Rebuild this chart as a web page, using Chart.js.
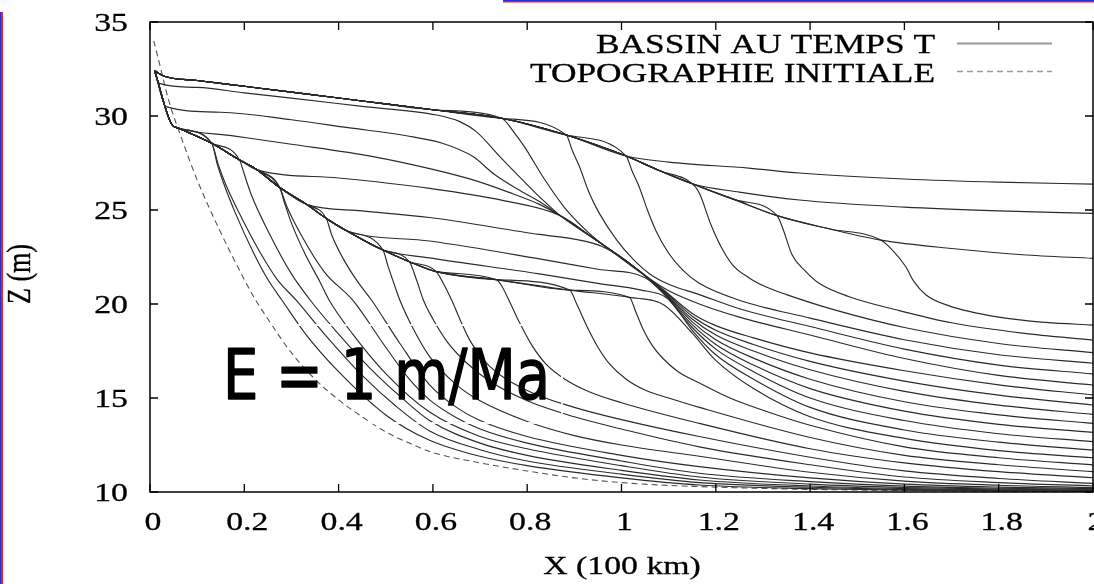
<!DOCTYPE html>
<html>
<head>
<meta charset="utf-8">
<script src="https://cdn.jsdelivr.net/npm/chart.js@4.4.1/dist/chart.umd.min.js"></script>
<style>
  html, body { margin:0; padding:0; background:#fff; }
  #wrap { width:1094px; height:584px; position:relative; }
</style>
</head>
<body>
<div id="wrap"><canvas id="basin" width="1094" height="584"></canvas></div>
<script>
// axes
const xTicks = [0, 0.2, 0.4, 0.6, 0.8, 1, 1.2, 1.4, 1.6, 1.8, 2];
const yTicks = [10, 15, 20, 25, 30, 35];
const legendLabels = ['BASSIN AU TEMPS T', 'TOPOGRAPHIE INITIALE'];
const noteText = 'E = 1 m/Ma';

// initial topography, drawn dashed
const initialTopo = [[0.008,34.0],[0.02,32.8],[0.04,30.8],[0.07,28.6],[0.1,26.6],[0.15,23.8],[0.2,21.3],[0.222,20.3],
  [0.25,19.2],[0.3,17.4],[0.35,16.0],[0.4,14.9],[0.45,14.0],[0.5,13.2],[0.55,12.6],[0.6,12.1],[0.7,11.55],[0.8,11.12],
  [0.9,10.75],[1.0,10.5],[1.1,10.35],[1.2,10.26],[1.3,10.19],[1.4,10.14],[1.6,10.08],[1.8,10.04],[2.0,10.02]];

// upper shelf edge: profiles follow it up to their break, then take their own tail
const upperRim = [[0.01,32.4],[0.032,32.1],[0.1,31.89],[0.2,31.58],[0.3,31.27],[0.45,30.8],[0.6,30.33],[0.746,29.88],
  [0.883,28.99],[1.01,27.87],[1.08,27.1],[1.15,26.4],[1.24,25.55],[1.33,24.7],[1.44,24.0],[1.55,23.4]];
const upperStops = [1.01, 1.15, 1.55, 1.55, 1.33, 1.15, 1.01, 0.883, 0.746];
const upperTails = [
  [[1.1,27.55],[1.27,27.23],[1.377,26.97],[1.6,26.65],[1.8,26.48],[2.0,26.38]],
  [[1.25,25.95],[1.377,25.53],[1.6,25.15],[1.8,24.95],[2.0,24.82]],
  [[1.7,22.95],[1.85,22.62],[2.0,22.43]],
  [[1.575,22.85],[1.603,21.98],[1.62,21.2],[1.646,20.48],[1.695,19.9],[1.8,19.3],[1.9,19.02],[2.0,18.88]],
  [[1.341,24.1],[1.362,22.6],[1.39,21.75],[1.419,21.1],[1.483,20.39],[1.589,19.65],[1.7,19.0],[1.85,18.45],[2.0,18.08]],
  [[1.165,25.9],[1.19,24.2],[1.21,23.1],[1.235,22.1],[1.27,21.4],[1.307,20.9],[1.35,20.5],[1.45,19.7],[1.6,18.75],[1.8,17.9],[2.0,17.41]],
  [[1.022,27.1],[1.038,26.2],[1.055,25.0],[1.073,23.9],[1.1,22.7],[1.13,21.8],[1.165,21.1],[1.25,20.2],[1.4,19.25],[1.6,18.1],[1.8,17.3],[2.0,16.85]],
  [[0.895,28.2],[0.911,27.3],[0.93,26.0],[0.953,24.82],[0.99,23.4],[1.024,22.4],[1.06,21.6],[1.1,21.05],[1.165,20.5],[1.25,19.75],[1.4,18.8],[1.6,17.6],[1.8,16.75],[2.0,16.28]],
  [[0.77,29.2],[0.794,28.37],[0.835,26.7],[0.88,25.1],[0.93,23.8],[0.99,22.6],[1.05,21.5],[1.1,20.7],[1.165,20.0],[1.25,19.3],[1.4,18.35],[1.6,17.1],[1.8,16.2],[2.0,15.69]]
];

// lower shelf edge (and the last topset running on from it)
const lowerRim = [[0.01,32.4],[0.046,29.56],[0.061,29.35],[0.131,28.55],[0.19,27.66],[0.226,27.15],[0.275,26.2],
  [0.332,25.3],[0.374,24.55],[0.417,23.9],[0.494,22.87],[0.55,22.25],[0.607,21.72],[0.734,21.3],[0.89,20.74],[1.017,20.35]];
const lowerStops = [0.01, 0.01, 0.061, 0.226, 0.332, 0.417, 0.494, 1.017,
  1.017, 0.89, 0.734, 0.607, 0.55, 0.494, 0.374, 0.275, 0.275, 0.19, 0.131, 0.131];
const lowerTails = [
  [[0.018,31.75],[0.1,31.52],[0.2,31.23],[0.3,30.95],[0.45,30.51],[0.608,30.05],[0.657,29.7],[0.692,29.17],[0.742,27.84],[0.79,26.6],[0.826,25.7],[0.87,24.7],[0.946,23.4],[1.017,22.16],[1.087,20.8],[1.15,19.5],[1.2,18.85],[1.28,18.2],[1.4,17.4],[1.6,16.45],[1.8,15.7],[2.0,15.16]],
  [[0.034,30.5],[0.15,30.2],[0.3,29.8],[0.42,29.38],[0.544,28.95],[0.62,28.55],[0.685,27.84],[0.73,26.9],[0.78,26.1],[0.826,25.45],[0.87,24.7],[0.946,23.4],[1.017,22.16],[1.087,20.76],[1.15,19.35],[1.2,18.6],[1.28,17.85],[1.4,16.95],[1.6,15.9],[1.8,15.15],[2.0,14.63]],
  [[0.18,28.93],[0.3,28.5],[0.473,27.84],[0.593,27.2],[0.685,26.6],[0.76,25.95],[0.826,25.3],[0.87,24.7],[0.946,23.4],[1.017,22.16],[1.087,20.72],[1.15,19.2],[1.2,18.35],[1.28,17.5],[1.4,16.5],[1.6,15.35],[1.8,14.62],[2.0,14.13]],
  [[0.4,26.7],[0.593,26.15],[0.75,25.5],[0.87,24.7],[0.946,23.4],[1.017,22.16],[1.087,20.68],[1.15,19.05],[1.2,18.1],[1.28,17.12],[1.4,16.0],[1.6,14.8],[1.8,14.1],[2.0,13.65]],
  [[0.45,24.95],[0.593,24.6],[0.826,23.7],[0.9,23.45],[0.96,23.05],[1.017,22.16],[1.087,20.64],[1.15,18.9],[1.2,17.85],[1.28,16.75],[1.4,15.5],[1.6,14.3],[1.8,13.6],[2.0,13.17]],
  [[0.593,23.35],[0.826,22.4],[0.95,21.85],[1.05,21.4],[1.087,20.6],[1.15,18.75],[1.2,17.6],[1.28,16.4],[1.4,15.0],[1.6,13.8],[1.8,13.1],[2.0,12.68]],
  [[0.593,22.45],[0.826,21.6],[0.95,21.1],[1.04,20.75],[1.1,20.25],[1.15,18.6],[1.2,17.3],[1.28,16.0],[1.4,14.5],[1.6,13.3],[1.8,12.65],[2.0,12.23]],
  [[1.09,19.95],[1.15,18.45],[1.2,17.0],[1.28,15.5],[1.4,14.0],[1.6,12.85],[1.8,12.2],[2.0,11.82]],
  [[1.03,19.6],[1.045,18.7],[1.065,17.8],[1.088,17.1],[1.12,16.4],[1.165,15.8],[1.23,15.0],[1.3,14.35],[1.4,13.55],[1.6,12.4],[1.8,11.82],[2.0,11.44]],
  [[0.905,20.0],[0.925,18.9],[0.95,17.7],[0.975,16.8],[1.01,16.0],[1.052,15.4],[1.1,15.0],[1.165,14.5],[1.4,12.9],[1.6,11.95],[1.8,11.45],[2.0,11.08]],
  [[0.745,21.0],[0.765,20.0],[0.784,19.0],[0.81,17.8],[0.84,16.8],[0.88,16.0],[0.93,15.35],[1.0,14.75],[1.165,13.65],[1.4,12.3],[1.6,11.55],[1.8,11.08],[2.0,10.76]],
  [[0.62,21.2],[0.64,20.2],[0.657,19.2],[0.68,18.0],[0.72,16.7],[0.8,15.4],[0.9,14.5],[1.0,13.85],[1.165,12.95],[1.4,11.85],[1.6,11.12],[1.8,10.72],[2.0,10.46]],
  [[0.565,21.3],[0.58,20.2],[0.6,19.2],[0.63,18.0],[0.67,16.9],[0.72,15.9],[0.8,14.85],[0.9,14.0],[1.0,13.35],[1.165,12.4],[1.4,11.45],[1.6,10.8],[1.8,10.5],[2.0,10.32]],
  [[0.505,22.0],[0.52,20.9],[0.53,20.2],[0.56,18.6],[0.593,17.2],[0.65,15.7],[0.7,14.85],[0.8,13.75],[0.9,13.0],[1.0,12.5],[1.165,11.9],[1.4,11.05],[1.6,10.58],[1.8,10.36],[2.0,10.24]],
  [[0.385,23.7],[0.41,22.4],[0.44,21.2],[0.47,20.2],[0.53,17.9],[0.593,15.7],[0.65,14.5],[0.7,13.8],[0.8,12.95],[1.0,11.95],[1.165,11.35],[1.4,10.75],[1.6,10.42],[1.8,10.26],[2.0,10.18]],
  [[0.29,25.2],[0.32,23.7],[0.37,21.7],[0.43,20.2],[0.5,17.7],[0.55,16.0],[0.593,14.9],[0.65,13.95],[0.7,13.35],[0.8,12.6],[1.0,11.65],[1.165,11.0],[1.4,10.55],[1.6,10.31],[1.8,10.2],[2.0,10.14]],
  [[0.285,25.4],[0.3,24.3],[0.33,22.6],[0.36,21.2],[0.38,20.2],[0.43,18.4],[0.5,16.3],[0.593,14.25],[0.7,12.95],[0.8,12.3],[1.0,11.4],[1.165,10.8],[1.4,10.42],[1.6,10.24],[1.8,10.15],[2.0,10.11]],
  [[0.2,26.9],[0.215,25.8],[0.25,23.9],[0.3,21.6],[0.34,20.2],[0.4,18.4],[0.47,16.5],[0.53,15.1],[0.593,13.8],[0.7,12.6],[0.8,11.95],[1.0,11.15],[1.165,10.64],[1.4,10.32],[1.6,10.18],[1.8,10.11],[2.0,10.09]],
  [[0.145,27.4],[0.16,26.4],[0.19,24.8],[0.23,22.9],[0.27,21.3],[0.31,20.2],[0.37,18.4],[0.45,16.2],[0.52,14.6],[0.593,13.25],[0.7,12.25],[0.8,11.65],[1.0,10.95],[1.165,10.5],[1.4,10.25],[1.6,10.13],[1.8,10.08],[2.0,10.06]],
  [[0.142,27.5],[0.155,26.5],[0.18,24.9],[0.22,22.7],[0.25,21.3],[0.28,20.2],[0.33,18.4],[0.4,16.4],[0.5,14.1],[0.593,12.75],[0.7,11.9],[0.8,11.4],[1.0,10.75],[1.165,10.37],[1.4,10.18],[1.6,10.1],[1.8,10.06],[2.0,10.05]]
];

const LINE = '#2b2b2b';
const SERIF = '"Liberation Serif", "Times New Roman", serif';

function along(rim, stop) {
  return rim.filter(p => p[0] <= stop + 1e-9);
}
const toXY = pts => pts.map(([x, y]) => ({ x, y }));

const profiles = [];
upperTails.forEach((t, i) => profiles.push(along(upperRim, upperStops[i]).concat(t)));
lowerTails.forEach((t, i) => profiles.push(along(lowerRim, lowerStops[i]).concat(t)));

const datasets = profiles.map(p => ({
  data: toXY(p), borderColor: LINE, borderWidth: 1.15, showLine: true,
  pointRadius: 0, fill: false, cubicInterpolationMode: 'monotone'
}));
datasets.push({
  data: toXY(initialTopo), borderColor: '#555', borderWidth: 1.1, borderDash: [6, 4],
  showLine: true, pointRadius: 0, fill: false, cubicInterpolationMode: 'monotone'
});

// text stretched along x, the way the original plot was scaled; a thin stroke thickens the serif
function wideText(ctx, text, x, y, align, sx) {
  ctx.save();
  ctx.translate(x, y);
  ctx.scale(sx, 1);
  ctx.textAlign = align;
  ctx.fillText(text, 0, 0);
  ctx.strokeText(text, 0, 0);
  ctx.restore();
}

const decor = {
  id: 'decor',
  afterDraw(chart) {
    const { ctx, chartArea: a, scales } = chart;
    const xs = scales.x, ys = scales.y;
    ctx.save();

    // frame + inward ticks on all four sides
    ctx.strokeStyle = '#000';
    ctx.lineWidth = 1.5;
    ctx.strokeRect(a.left, a.top, a.right - a.left, a.bottom - a.top);
    ctx.lineWidth = 1.3;
    ctx.beginPath();
    xTicks.forEach(v => {
      const px = xs.getPixelForValue(v);
      ctx.moveTo(px, a.bottom); ctx.lineTo(px, a.bottom - 8);
      ctx.moveTo(px, a.top); ctx.lineTo(px, a.top + 8);
    });
    yTicks.forEach(v => {
      const py = ys.getPixelForValue(v);
      ctx.moveTo(a.left, py); ctx.lineTo(a.left + 8, py);
      ctx.moveTo(a.right, py); ctx.lineTo(a.right - 8, py);
    });
    ctx.stroke();

    // tick labels
    ctx.fillStyle = '#000';
    ctx.strokeStyle = '#000';
    ctx.lineWidth = 0.3;
    ctx.font = '26px ' + SERIF;
    ctx.textBaseline = 'alphabetic';
    xTicks.forEach(v => wideText(ctx, String(v), xs.getPixelForValue(v) + 3, 530, 'center', 1.3));
    yTicks.forEach(v => wideText(ctx, String(v), 128, ys.getPixelForValue(v) + 9, 'right', 1.3));

    // axis titles
    wideText(ctx, 'X (100 km)', 622, 574, 'center', 1.3);
    ctx.save();
    ctx.translate(30, 274);
    ctx.rotate(-Math.PI / 2);
    ctx.scale(1, 1.3);
    ctx.textAlign = 'center';
    ctx.fillText('Z (m)', 0, 0);
    ctx.strokeText('Z (m)', 0, 0);
    ctx.restore();

    // key
    ctx.font = '27px ' + SERIF;
    wideText(ctx, legendLabels[0], 935, 53, 'right', 1.31);
    wideText(ctx, legendLabels[1], 935, 81.5, 'right', 1.31);
    ctx.strokeStyle = '#9a9a9a';
    ctx.lineWidth = 1.8;
    ctx.beginPath(); ctx.moveTo(957, 43.5); ctx.lineTo(1052, 43.5); ctx.stroke();
    ctx.lineWidth = 1.3;
    ctx.setLineDash([6, 4]);
    ctx.beginPath(); ctx.moveTo(957, 71.5); ctx.lineTo(1052, 71.5); ctx.stroke();
    ctx.setLineDash([]);

    // erosion-rate note over the plot
    ctx.strokeStyle = 'rgba(255,255,255,0.9)';
    ctx.lineWidth = 2;
    ctx.strokeRect(192, 325, 370, 98);
    ctx.font = '70px "DejaVu Sans", sans-serif';
    const w = ctx.measureText(noteText).width;
    ctx.save();
    ctx.translate(223, 399);
    ctx.scale(327 / w, 1);
    ctx.textAlign = 'left';
    ctx.fillStyle = '#000';
    ctx.strokeStyle = '#000';
    ctx.lineWidth = 1.5;
    ctx.lineJoin = 'round';
    ctx.fillText(noteText, 0, 0);
    ctx.strokeText(noteText, 0, 0);
    ctx.restore();

    // slide border strokes
    ctx.fillStyle = '#2b2bd6';
    ctx.fillRect(0, 12, 1, 572);
    ctx.fillRect(503, 0, 591, 1);
    ctx.fillStyle = '#e8222c';
    ctx.fillRect(1, 12, 2, 572);
    ctx.fillRect(503, 1, 591, 1.5);
    ctx.restore();
  }
};

new Chart(document.getElementById('basin').getContext('2d'), {
  type: 'scatter',
  data: { datasets },
  options: {
    responsive: false, animation: false, devicePixelRatio: 1, events: [],
    layout: { padding: { left: 150, right: 1, top: 22, bottom: 92 } },
    plugins: { legend: { display: false }, tooltip: { enabled: false } },
    scales: {
      x: { type: 'linear', min: 0, max: 2, display: false },
      y: { type: 'linear', min: 10, max: 35, display: false }
    }
  },
  plugins: [decor]
});
</script>
</body>
</html>
